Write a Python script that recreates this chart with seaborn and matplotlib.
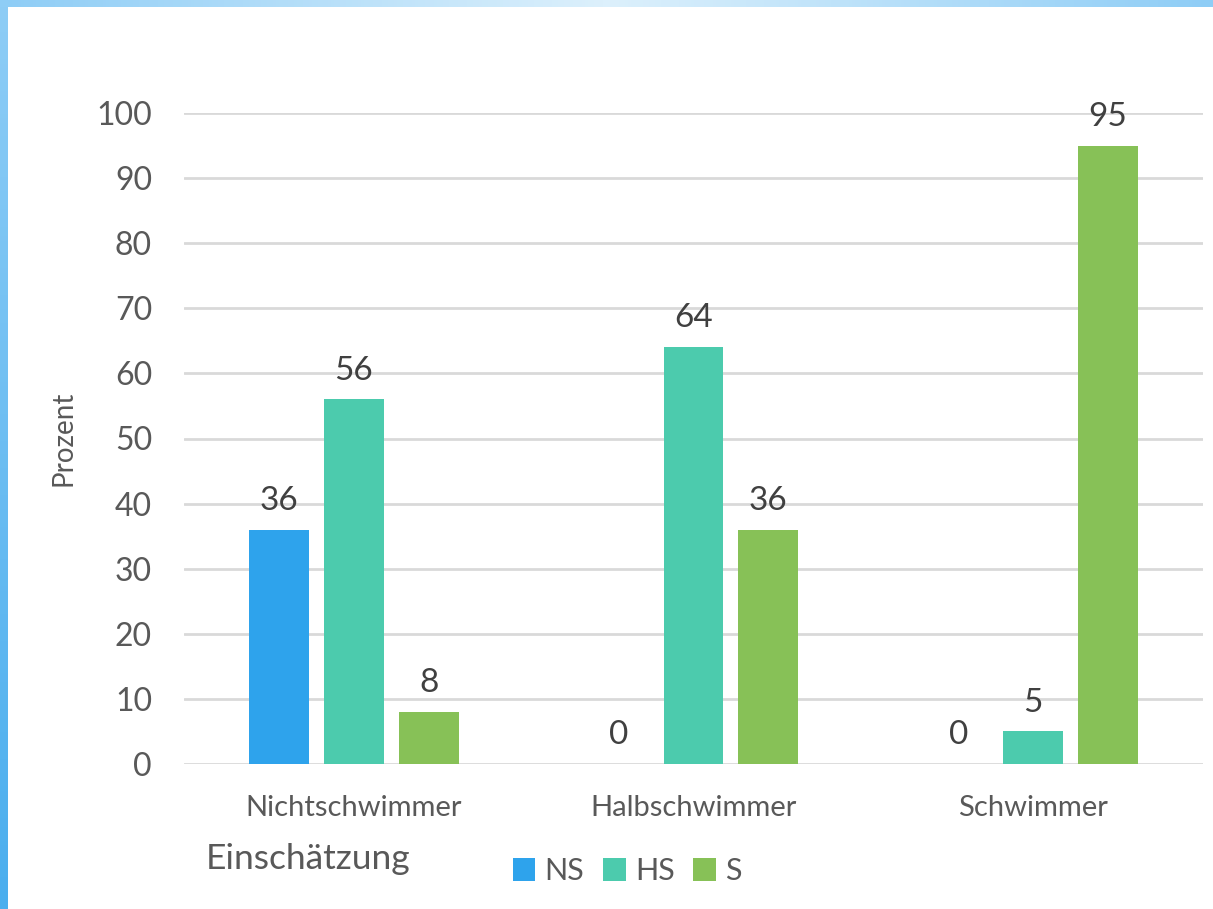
import numpy as np
import pandas as pd
import matplotlib
matplotlib.use("Agg")
import matplotlib.pyplot as plt
import seaborn as sns
from matplotlib.colors import LinearSegmentedColormap
from matplotlib.patches import Patch

categories = ["Nichtschwimmer", "Halbschwimmer", "Schwimmer"]
series = ["NS", "HS", "S"]
ns_values = [36, 0, 0]
hs_values = [56, 64, 5]
s_values = [8, 36, 95]
yticks = [0, 10, 20, 30, 40, 50, 60, 70, 80, 90, 100]

colors = {"NS": "#2ea3ec", "HS": "#4ccbad", "S": "#87c157"}

rows = []
for name, vals in zip(series, [ns_values, hs_values, s_values]):
    for c, v in zip(categories, vals):
        rows.append({"Kategorie": c, "Serie": name, "Wert": v})
df = pd.DataFrame(rows)

sns.set_theme(style="white")
plt.rcParams["font.family"] = ["Lato", "DejaVu Sans"]

W, H = 1213, 909
fig = plt.figure(figsize=(W / 100, H / 100), dpi=100)
fig.patch.set_facecolor("white")

# decorative gradient border (left and top)
bg = fig.add_axes([0, 0, 1, 1], zorder=-10)
bg.axis("off")
left_grad = np.linspace(0, 1, 200).reshape(-1, 1)
cm_left = LinearSegmentedColormap.from_list("l", ["#8ecdf6", "#4aaeee"])
bg.imshow(left_grad, extent=(0, 8, H, 0), cmap=cm_left, aspect="auto")
top_grad = np.abs(np.linspace(-1, 1, 400)).reshape(1, -1)
cm_top = LinearSegmentedColormap.from_list("t", ["#dcf0fc", "#8ecdf6"])
bg.imshow(top_grad, extent=(0, W, 7, 0), cmap=cm_top, aspect="auto")
bg.set_xlim(0, W)
bg.set_ylim(H, 0)

ax = fig.add_axes([184 / W, 1 - 764 / H, (1203 - 184) / W, (764 - 113) / H])
sns.barplot(data=df, x="Kategorie", y="Wert", hue="Serie", order=categories,
            hue_order=series, palette=colors, width=0.662, gap=0.2,
            saturation=1, ax=ax, legend=False, edgecolor="none")

ax.set_ylim(0, 100)
ax.set_xlim(-0.5, 2.5)
ax.set_yticks(yticks)
ax.set_yticklabels([str(t) for t in yticks], fontsize=23, color="#595959")
ax.tick_params(axis="y", length=0, pad=23)
ax.tick_params(axis="x", length=0, pad=22)
ax.set_xticklabels(categories, fontsize=21, color="#595959")
ax.yaxis.grid(True, color="#d9d9d9", linewidth=2)
ax.set_axisbelow(True)
for s in ax.spines.values():
    s.set_visible(False)
ax.set_xlabel("")
ax.set_ylabel("Prozent", fontsize=20, color="#595959")
ax.yaxis.set_label_coords(-108 / (1203 - 184), 0.5)

for cont in ax.containers:
    ax.bar_label(cont, fmt="%g", fontsize=24, color="#404040", padding=10, clip_on=False)

fig.text(206 / W, 1 - 869 / H, "Einschätzung", fontsize=25.5, color="#595959", va="baseline")

handles = [Patch(facecolor=colors[s], edgecolor="none", label=s) for s in series]
leg = fig.legend(handles=handles, loc="center", bbox_to_anchor=(627 / W, 1 - 871 / H),
                 ncol=3, frameon=False, fontsize=22, handlelength=0.75, handleheight=0.75,
                 handletextpad=0.3, columnspacing=0.6, borderpad=0)
for t in leg.get_texts():
    t.set_color("#595959")

fig.savefig("out.png", dpi=100)
